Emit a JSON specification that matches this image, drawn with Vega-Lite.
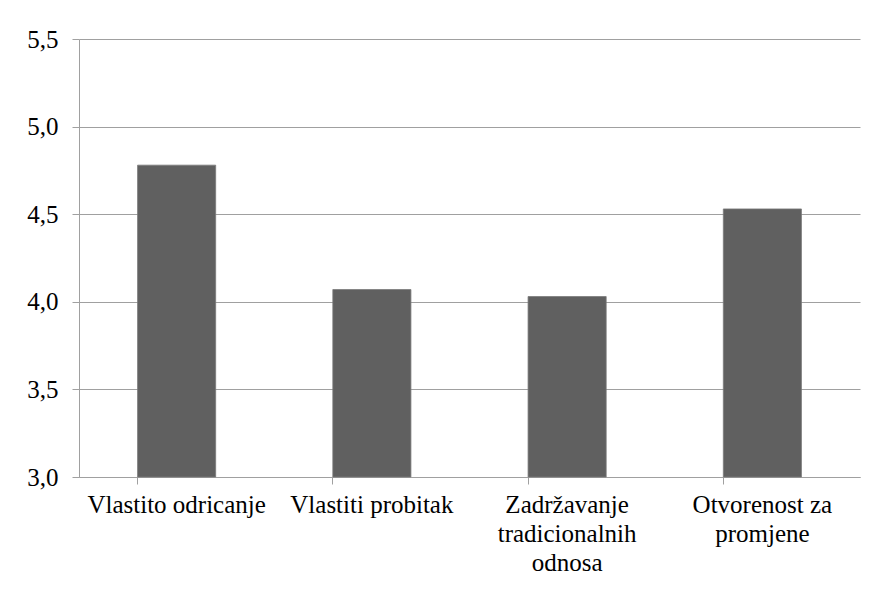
{
  "$schema": "https://vega.github.io/schema/vega-lite/v6.json",
  "width": 781,
  "height": 438,
  "autosize": "none",
  "padding": {"left": 79, "top": 39, "right": 17, "bottom": 113},
  "background": "white",
  "config": {
    "view": {"stroke": null},
    "font": "'Liberation Serif', 'Times New Roman', serif",
    "axis": {"labelFont": "'Liberation Serif', 'Times New Roman', serif"}
  },
  "data": {
    "values": [
      {"kategorija": "Vlastito odricanje", "vrijednost": 4.78},
      {"kategorija": "Vlastiti probitak", "vrijednost": 4.07},
      {"kategorija": "Zadržavanje tradicionalnih odnosa", "vrijednost": 4.03},
      {"kategorija": "Otvorenost za promjene", "vrijednost": 4.53}
    ]
  },
  "mark": {"type": "bar", "color": "#606060", "stroke": "#7a7a7a", "strokeWidth": 0.8},
  "encoding": {
    "x": {
      "field": "kategorija",
      "type": "nominal",
      "sort": null,
      "scale": {"paddingInner": 0.6, "paddingOuter": 0.3},
      "axis": {
        "title": null,
        "labelAngle": 0,
        "labelFontSize": 25,
        "labelColor": "black",
        "labelLineHeight": 29,
        "labelPadding": 8,
        "labelLimit": 300,
        "bandPosition": 0,
        "ticks": true,
        "tickSize": 7,
        "tickColor": "#a0a0a0",
        "domainColor": "#a0a0a0",
        "labelExpr": "datum.value == 'Zadržavanje tradicionalnih odnosa' ? ['Zadržavanje','tradicionalnih','odnosa'] : datum.value == 'Otvorenost za promjene' ? ['Otvorenost za','promjene'] : datum.value"
      }
    },
    "y": {
      "field": "vrijednost",
      "type": "quantitative",
      "scale": {"domain": [3, 5.5], "nice": false, "zero": false},
      "axis": {
        "title": null,
        "values": [3, 3.5, 4, 4.5, 5, 5.5],
        "labelExpr": "replace(format(datum.value, '.1f'), '.', ',')",
        "labelFontSize": 25,
        "labelColor": "black",
        "labelPadding": 14,
        "tickSize": 7,
        "tickColor": "#a0a0a0",
        "domainColor": "#a0a0a0",
        "grid": true,
        "gridColor": "#a0a0a0",
        "gridWidth": 1
      }
    },
    "y2": {"datum": 3}
  }
}
